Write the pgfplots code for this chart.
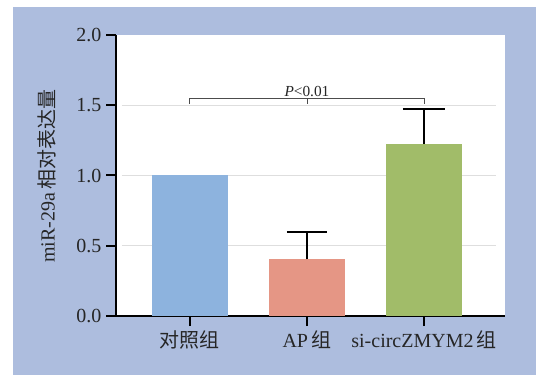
\documentclass[border=0pt]{standalone}
\usepackage{pgfplots}
\pgfplotsset{compat=1.18}
\usepackage{fontspec}
\setmainfont{Liberation Serif}
\newfontfamily\cjk{Noto Sans CJK SC}
\definecolor{bgl}{RGB}{173,189,222}
\definecolor{cblue}{RGB}{141,179,222}
\definecolor{csalmon}{RGB}{229,150,133}
\definecolor{cgreen}{RGB}{161,188,105}
\definecolor{gridc}{RGB}{222,222,222}
\begin{document}
\begin{tikzpicture}
\fill[bgl] (9.75pt,0pt) rectangle (402pt,276pt);
\begin{axis}[
  at={(87pt,44.25pt)}, anchor=south west,
  scale only axis, width=291.75pt, height=210.75pt,
  axis background/.style={fill=white},
  axis x line*=bottom, axis y line*=left,
  axis line style={line width=1.5pt, black},
  xmin=-0.63, xmax=2.69, ymin=0, ymax=2,
  xtick={0,1,2},
  xticklabels={{\cjk 对照组},{AP\,\cjk 组},{si-circZMYM2\,\cjk 组}},
  ytick={0,0.5,1,1.5,2},
  yticklabel style={/pgf/number format/.cd, fixed, fixed zerofill, precision=1},
  /pgf/number format/assume math mode=true,
  tick align=outside,
  major tick length=7.5pt,
  every tick/.style={line width=1.5pt, black},
  tick label style={font=\fontsize{15}{18}\selectfont, text=black!85},
  clip=false,
]
\draw[gridc, line width=0.9pt] (axis cs:-0.58,0.5) -- (axis cs:2.615,0.5);
\draw[gridc, line width=0.9pt] (axis cs:-0.58,1.0) -- (axis cs:2.615,1.0);
\draw[gridc, line width=0.9pt] (axis cs:-0.58,1.5) -- (axis cs:2.615,1.5);
\addplot[ybar, bar shift=0pt, bar width=57pt, fill=cblue, draw=none] coordinates {(0,1.0)};
\addplot[ybar, bar shift=0pt, bar width=57pt, fill=csalmon, draw=none,
  error bars/.cd, y dir=plus, y explicit,
  error bar style={line width=1.5pt, black},
  error mark options={rotate=90, mark size=15pt, line width=1.5pt, black}]
  coordinates {(1,0.405) +- (0,0.193)};
\addplot[ybar, bar shift=0pt, bar width=57pt, fill=cgreen, draw=none,
  error bars/.cd, y dir=plus, y explicit,
  error bar style={line width=1.5pt, black},
  error mark options={rotate=90, mark size=16pt, line width=1.5pt, black}]
  coordinates {(2,1.224) +- (0,0.249)};
\draw[black!70, line width=0.7pt] (axis cs:0,1.51) -- (axis cs:0,1.545) -- (axis cs:2,1.545) -- (axis cs:2,1.51);
\draw[black!70, line width=0.7pt] (axis cs:1,1.545) -- (axis cs:1,1.51);
\node[anchor=south, inner sep=1.5pt, font=\fontsize{11.5}{13}\selectfont, text=black!85] at (axis cs:1,1.545) {\textit{P}<0.01};
\end{axis}
\node[rotate=90, anchor=center, font=\fontsize{15}{18}\selectfont, text=black!85] at (35.25pt,149.25pt) {miR-29a\,{\cjk 相对表达量}};
\pgfresetboundingbox
\useasboundingbox (0pt,0pt) rectangle (402pt,281.25pt);
\end{tikzpicture}
\end{document}
